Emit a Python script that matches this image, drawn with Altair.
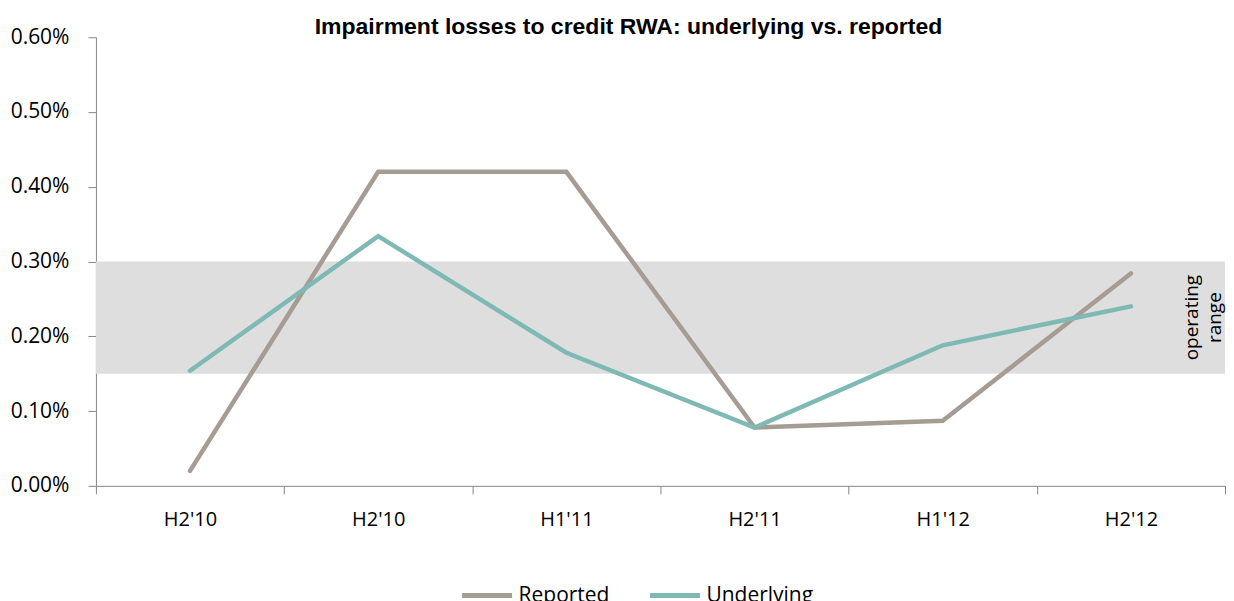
import altair as alt
import pandas as pd

periods = ["H2'10", "H2'10", "H1'11", "H2'11", "H1'12", "H2'12"]
reported = [0.0002, 0.0042, 0.0042, 0.00078, 0.00087, 0.00284]
underlying = [0.00154, 0.00334, 0.00178, 0.00078, 0.00188, 0.0024]
band_low, band_high = 0.0015, 0.0030
band_label = ["operating", "range"]

W, H = 1130, 449
idx = list(range(len(periods)))

rows = []
for i, v in zip(idx, reported):
    rows.append({"i": i, "series": "Reported", "value": v})
for i, v in zip(idx, underlying):
    rows.append({"i": i, "series": "Underlying", "value": v})
df = pd.DataFrame(rows)

label_expr = "[" + ",".join('"' + p + '"' for p in periods) + "][datum.value]"

xenc = alt.X("i:O", title=None, sort=idx,
             axis=alt.Axis(labelExpr=label_expr, labelAngle=0, tickBand="extent",
                           labelFontSize=20, labelColor="#000", labelFont="Open Sans",
                           tickSize=8, labelPadding=16, domainColor="#868686",
                           tickColor="#868686", grid=False))

band = alt.Chart(pd.DataFrame({"lo": [band_low], "hi": [band_high]})).mark_rect(
    color="#DEDEDE").encode(
    x=alt.value(0), x2=alt.value(W),
    y=alt.Y("lo:Q"), y2="hi:Q")

band_text = alt.Chart(pd.DataFrame({"y": [(band_low + band_high) / 2], "t": [band_label]})).mark_text(
    angle=270, fontSize=19, font="Open Sans", color="#000", align="center", baseline="middle",
    lineHeight=23).encode(
    x=alt.value(W - 33), y=alt.Y("y:Q"), text="t")

lines = alt.Chart(df).mark_line(strokeWidth=4.5, strokeCap="round").encode(
    x=xenc,
    y=alt.Y("value:Q", title=None,
            scale=alt.Scale(domain=[0, 0.006], nice=False),
            axis=alt.Axis(values=[0, 0.001, 0.002, 0.003, 0.004, 0.005, 0.006],
                          format=".2%", labelFontSize=21, labelColor="#000",
                          labelFont="Open Sans", tickSize=8, labelPadding=19,
                          domainColor="#868686", tickColor="#868686", grid=False)),
    color=alt.Color("series:N",
                    scale=alt.Scale(domain=["Reported", "Underlying"],
                                    range=["#A59D94", "#7FB9B3"]),
                    legend=alt.Legend(title=None, orient="none", direction="horizontal",
                                      legendX=364, legendY=531,
                                      symbolType="stroke", symbolStrokeWidth=5,
                                      symbolSize=2500, labelFontSize=21, labelFont="Open Sans",
                                      labelColor="#000", columnPadding=30, labelOffset=4)),
    order=alt.Order("series:N", sort="ascending"),
)

chart = alt.layer(band, band_text, lines).properties(
    width=W, height=H,
    padding={"left": 2, "right": 0, "top": 8, "bottom": 0},
    title=alt.TitleParams("Impairment losses to credit RWA: underlying vs. reported",
                          fontSize=23, font="Liberation Sans", fontWeight="bold",
                          color="#000", anchor="middle", offset=-13, dx=-32),
).configure_view(stroke=None)

chart.save("out.html", embed_options={"renderer": "svg", "actions": False})
